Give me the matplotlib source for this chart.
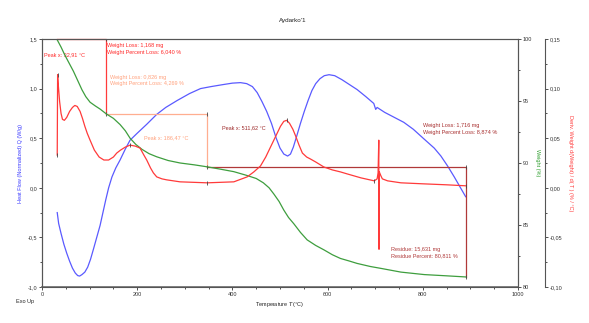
import matplotlib
matplotlib.use("Agg")
import matplotlib.pyplot as plt
from matplotlib.ticker import MultipleLocator, FuncFormatter

plt.rcParams["font.family"] = ["Liberation Sans", "DejaVu Sans"]

# heat flow (W/g) vs temperature (°C)
hf_temp = [32, 35, 40, 46, 52, 58, 64, 70, 75, 79, 84, 90, 96, 102, 108, 115, 122, 128, 134,
           140, 147, 155, 164, 175, 185, 200, 220, 241, 260, 284, 310, 333, 355, 380, 400, 417,
           430, 442, 452, 462, 472, 482, 492, 500, 508, 516, 522, 528, 535, 543, 551, 559, 567,
           575, 584, 593, 603, 615, 630, 646, 662, 680, 697, 701, 704, 720, 740, 760, 780, 803,
           824, 838, 852, 866, 878, 890]
hf_val = [-0.25, -0.36, -0.46, -0.57, -0.66, -0.74, -0.81, -0.86, -0.885, -0.89, -0.875, -0.85,
          -0.80, -0.72, -0.62, -0.50, -0.38, -0.25, -0.12, 0.00, 0.11, 0.20, 0.28, 0.39, 0.48,
          0.55, 0.64, 0.74, 0.81, 0.88, 0.95, 1.00, 1.02, 1.04, 1.055, 1.06, 1.05, 1.02, 0.96,
          0.87, 0.77, 0.65, 0.50, 0.40, 0.34, 0.32, 0.34, 0.41, 0.52, 0.65, 0.77, 0.88, 0.98,
          1.05, 1.10, 1.13, 1.14, 1.13, 1.09, 1.04, 0.99, 0.92, 0.85, 0.79, 0.81, 0.76, 0.71,
          0.66, 0.59, 0.49, 0.40, 0.32, 0.22, 0.11, 0.01, -0.09]

# weight (%) vs temperature
wt_temp = [31, 40, 48, 57, 66, 75, 84, 92, 101, 112, 122, 135, 150, 164, 175, 185, 197, 210,
           225, 241, 265, 290, 320, 347, 375, 403, 430, 450, 465, 477, 487, 498, 508, 518, 529,
           543, 557, 575, 592, 610, 627, 645, 662, 690, 712, 754, 803, 850, 890]
wt_val = [100.0, 99.35, 98.7, 98.05, 97.4, 96.65, 95.9, 95.35, 94.9, 94.6, 94.35, 93.96, 93.6,
          93.1, 92.6, 92.0, 91.5, 91.1, 90.75, 90.5, 90.2, 90.0, 89.85, 89.69, 89.5, 89.3, 89.0,
          88.75, 88.4, 88.0, 87.5, 86.9, 86.2, 85.6, 85.1, 84.4, 83.8, 83.35, 83.0, 82.6, 82.3,
          82.1, 81.9, 81.65, 81.5, 81.2, 81.0, 80.9, 80.81]

# derivative weight (%/°C) vs temperature
dw_temp = [32, 32.8, 34, 37, 40, 43, 47, 52, 58, 64, 69, 74, 80, 85, 90, 95, 101, 110, 120, 130,
           140, 150, 157, 165, 175, 185, 196, 206, 214, 220, 228, 234, 241, 252, 262, 290, 347,
           403, 431, 445, 459, 470, 480, 491, 501, 508, 514, 520, 527, 533, 540, 547, 556, 564,
           575, 592, 610, 627, 641, 670, 698, 704, 706, 707.5, 708, 708.6, 712, 715, 726, 754,
           800, 850, 890]
dw_val = [0.033, 0.114, 0.105, 0.087, 0.075, 0.069, 0.068, 0.071, 0.077, 0.081, 0.083, 0.082,
          0.077, 0.070, 0.062, 0.055, 0.048, 0.038, 0.031, 0.028, 0.028, 0.031, 0.035, 0.038,
          0.041, 0.043, 0.042, 0.040, 0.033, 0.028, 0.020, 0.015, 0.011, 0.009, 0.008, 0.006,
          0.005, 0.006, 0.011, 0.016, 0.022, 0.031, 0.041, 0.052, 0.062, 0.067, 0.068, 0.065,
          0.059, 0.052, 0.043, 0.035, 0.031, 0.029, 0.026, 0.021, 0.018, 0.016, 0.014, 0.010,
          0.007, 0.009, 0.015, 0.048, -0.062, 0.016, 0.012, 0.009, 0.007, 0.005, 0.004, 0.003,
          0.002]

# weight-loss steps: start temp, end temp, start weight, end weight
step_t0 = [32, 135, 347]
step_t1 = [135, 347, 890]
step_w0 = [100.0, 93.96, 89.69]
step_w1 = [93.96, 89.69, 80.81]
step_colors = ["#ff3b3b", "#ffae90", "#b03838"]

peak_temp = [32.8, 32, 185, 347, 514, 698, 890]
peak_dw = [0.114, 0.033, 0.043, 0.005, 0.068, 0.007, 0.002]

fig = plt.figure(figsize=(5.89, 3.23), dpi=100)
ax = fig.add_axes([0.0713, 0.1115, 0.8082, 0.7678])
ax2 = ax.twinx()
ax3 = ax.twinx()
ax3.spines["right"].set_position(("outward", 19.4))

spine_c = "#555555"
for a in (ax, ax2, ax3):
    for s in a.spines.values():
        s.set_color(spine_c)
        s.set_linewidth(0.8)
    a.tick_params(which="both", direction="out", colors="#333333", labelsize=4, width=0.6)
    a.tick_params(which="major", length=2.2, pad=1.2)
    a.tick_params(which="minor", length=1.3)
ax.spines["bottom"].set_linewidth(1.3)
ax.spines["bottom"].set_color("#777777")
ax3.spines["left"].set_visible(False)
ax3.spines["top"].set_visible(False)
ax3.spines["bottom"].set_visible(False)

comma = lambda fmt: FuncFormatter(lambda v, p: (fmt % v).replace(".", ","))

ax.set_xlim(0, 1000)
ax.set_ylim(-1.0, 1.5)
ax.xaxis.set_major_locator(MultipleLocator(200))
ax.xaxis.set_minor_locator(MultipleLocator(50))
ax.yaxis.set_major_locator(MultipleLocator(0.5))
ax.yaxis.set_minor_locator(MultipleLocator(0.25))
ax.yaxis.set_major_formatter(comma("%.1f"))

ax2.set_ylim(80, 100)
ax2.yaxis.set_major_locator(MultipleLocator(5))
ax2.yaxis.set_minor_locator(MultipleLocator(2.5))

ax3.set_ylim(-0.10, 0.15)
ax3.yaxis.set_major_locator(MultipleLocator(0.05))
ax3.yaxis.set_minor_locator(MultipleLocator(0.025))
ax3.yaxis.set_major_formatter(comma("%.2f"))

# step annotation lines
for t0, t1, w0, w1, c in zip(step_t0, step_t1, step_w0, step_w1, step_colors):
    ax2.plot([t0, t1, t1], [w0, w0, w1], color=c, lw=0.9, zorder=1, clip_on=False)
    ax2.plot([t1, t1], [w0, w1], ls="none", marker="|", ms=3, color="#444444", mew=0.6)

ax.plot(hf_temp, hf_val, color="#5a5aff", lw=0.9)
ax2.plot(wt_temp, wt_val, color="#3e9e3e", lw=0.9)
ax3.plot(dw_temp, dw_val, color="#ff3a3a", lw=0.9)
ax3.plot(peak_temp, peak_dw, ls="none", marker="|", ms=3, color="#444444", mew=0.6)

tx = dict(transform=ax.transAxes, fontsize=4, va="center", ha="left")
ax.text(0.004, 0.935, "Peak x: 32,91 °C", color="#ff2a2a", **tx)
ax.text(0.137, 0.972, "Weight Loss: 1,168 mg", color="#ff2a2a", **tx)
ax.text(0.137, 0.946, "Weight Percent Loss: 6,040 %", color="#ff2a2a", **tx)
ax.text(0.143, 0.845, "Weight Loss: 0,826 mg", color="#ffa27e", **tx)
ax.text(0.143, 0.819, "Weight Percent Loss: 4,269 %", color="#ffa27e", **tx)
ax.text(0.214, 0.600, "Peak x: 186,47 °C", color="#ffa27e", **tx)
ax.text(0.378, 0.642, "Peak x: 511,62 °C", color="#9e2a2a", **tx)
ax.text(0.801, 0.653, "Weight Loss: 1,716 mg", color="#a83030", **tx)
ax.text(0.801, 0.624, "Weight Percent Loss: 8,874 %", color="#a83030", **tx)
ax.text(0.733, 0.153, "Residue: 15,631 mg", color="#b03a3a", **tx)
ax.text(0.733, 0.126, "Residue Percent: 80,811 %", color="#b03a3a", **tx)

fig.text(0.497, 0.938, "Aydarko'1", fontsize=4.5, ha="center", va="center", color="#222222")
fig.text(0.027, 0.068, "Exo Up", fontsize=4, ha="left", va="center", color="#222222")
fig.text(0.475, 0.056, "Temperature $\\it{T}$ (°C)", fontsize=4, ha="center", va="center",
         color="#222222")
fig.text(0.034, 0.495, "Heat Flow (Normalized) Q (W/g)", fontsize=4, rotation=90,
         ha="center", va="center", color="#3a3aff")
fig.text(0.913, 0.495, "Weight (%)", fontsize=4, rotation=270,
         ha="center", va="center", color="#2e9e2e")
fig.text(0.968, 0.495, "Deriv. Weight d(Weight) / d( T ) (% / °C)", fontsize=4, rotation=270,
         ha="center", va="center", color="#ff3a3a")

fig.savefig("out.png", dpi=100)
